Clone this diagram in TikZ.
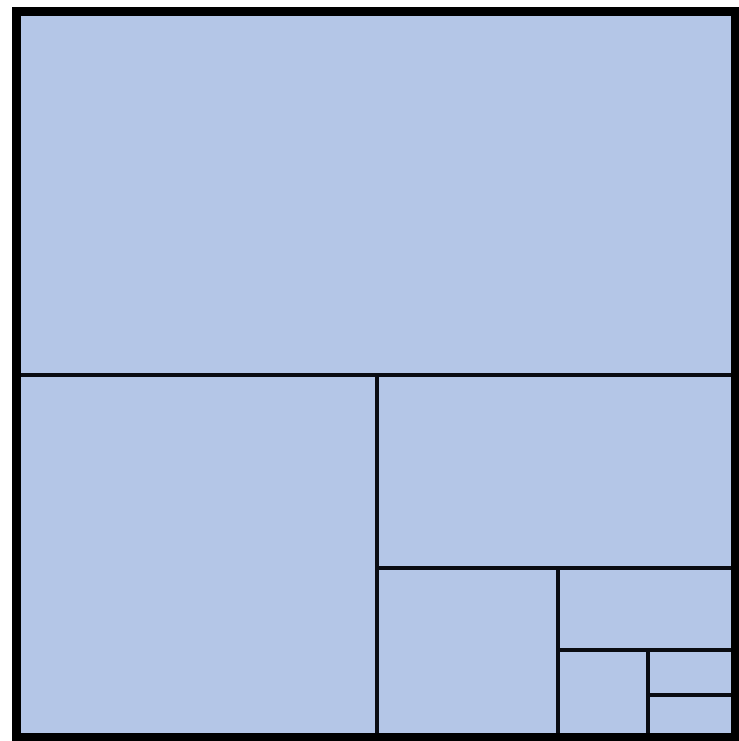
\documentclass[tikz,border=0pt]{standalone}
\usepackage{tikz}
\usepackage{xcolor}
\definecolor{cellbg}{RGB}{180,198,231}
\definecolor{cellline}{RGB}{10,12,18}

\begin{document}
\begin{tikzpicture}[x=0.1mm,y=-0.1mm]
  \useasboundingbox (0,0) rectangle (739,741);
  \fill[cellbg] (16,11) rectangle (735,737);
  % splits, each one halving what is left
  \draw[cellline,line width=0.42mm] (16,375)--(735,375);
  \draw[cellline,line width=0.42mm] (377,375)--(377,737);
  \draw[cellline,line width=0.42mm] (377,568)--(735,568);
  \draw[cellline,line width=0.42mm] (558,568)--(558,737);
  \draw[cellline,line width=0.42mm] (558,650)--(735,650);
  \draw[cellline,line width=0.42mm] (648,650)--(648,737);
  \draw[cellline,line width=0.42mm] (648,695)--(735,695);
  \draw[black,line width=0.9mm] (16,11) rectangle (735,737);
\end{tikzpicture}
\end{document}
